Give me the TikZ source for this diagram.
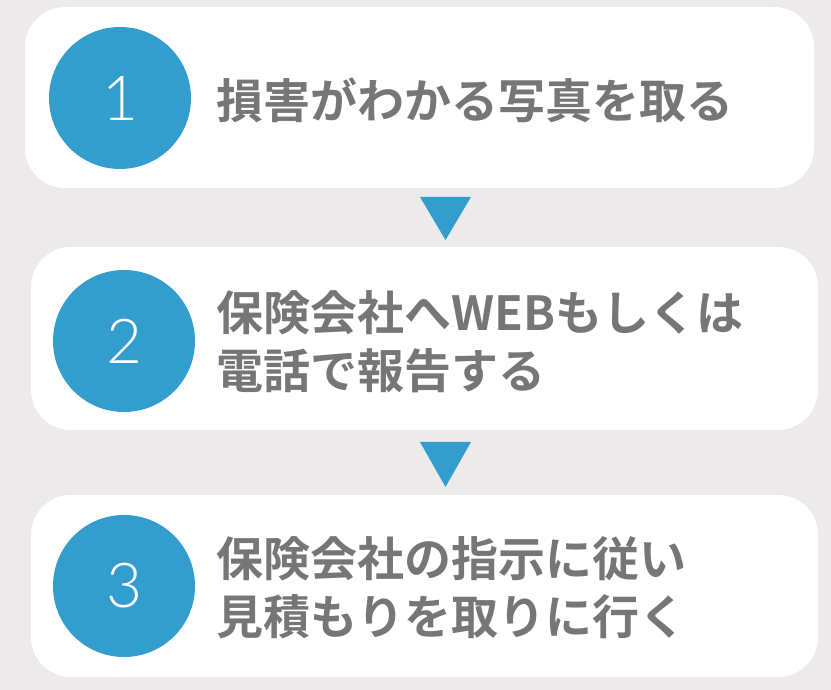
\documentclass[tikz,border=0pt]{standalone}
\usepackage{fontspec}
\newfontfamily\cjk{Noto Sans CJK JP}[BoldFont={* Bold}]
\newfontfamily\numfont{Lato}[UprightFont={* Light}]
\definecolor{bgc}{HTML}{ECEAEB}
\definecolor{bluec}{HTML}{339ECD}
\definecolor{textc}{HTML}{767676}
\tikzset{
  card/.style={fill=white, rounded corners=40pt, draw=none},
  numcircle/.style={circle, fill=bluec, minimum size=142pt, inner sep=0pt,
    text=white, font=\numfont\fontsize{62}{62}\selectfont},
  label/.style={anchor=west, inner sep=0pt, text=textc, align=left,
    font=\cjk\bfseries\fontsize{47}{58}\selectfont},
  downtri/.style={fill=bluec, draw=none}
}
\begin{document}
\begin{tikzpicture}[x=1pt,y=1pt]
\fill[bgc] (0,0) rectangle (831,690);
\useasboundingbox (0,0) rectangle (831,690);
% cards
\fill[card] (25,502) rectangle (814,683);
\fill[card] (31,260) rectangle (818,443);
\fill[card] (31,13) rectangle (818,195);
% circles
\node[numcircle] (c1) at (120,592) {1};
\node[numcircle] (c2) at (124,349) {2};
\node[numcircle] (c3) at (124,104) {3};
% labels
\node[label] (t1) at (216,590) {損害がわかる写真を取る};
\node[label] (t2) at (216,348) {保険会社へWEBもしくは\\電話で報告する};
\node[label] (t3) at (216,102) {保険会社の指示に従い\\見積もりを取りに行く};
% triangles
\fill[downtri] (420,493) -- (471,493) -- (445.5,450) -- cycle;
\fill[downtri] (420,248) -- (471,248) -- (445.5,203) -- cycle;
\end{tikzpicture}
\end{document}
